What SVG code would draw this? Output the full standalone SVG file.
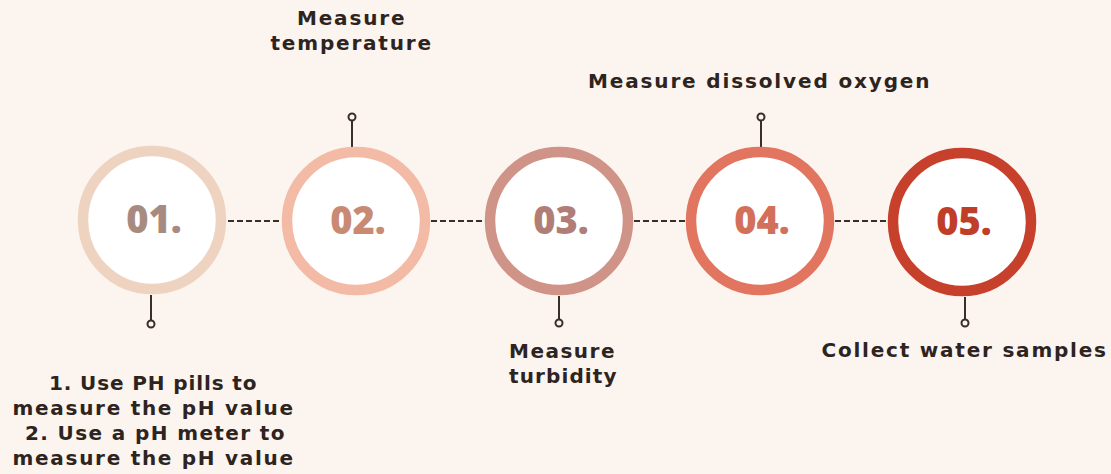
<svg xmlns="http://www.w3.org/2000/svg" width="1111" height="474" viewBox="0 0 1111 474">
<style>
.lbl{font-family:"DejaVu Sans","Open Sans",sans-serif;font-weight:700;font-size:20px;fill:#2e241f;text-anchor:middle;letter-spacing:0.5px}
.num{font-family:"Open Sans","Liberation Sans",sans-serif;font-weight:800;font-size:38px;text-anchor:middle}
.ring{fill:#ffffff;stroke-width:10.5}
.stem{stroke:#3a2e29;stroke-width:2;fill:none}
.dot{fill:#fcf4ee;stroke:#3a2e29;stroke-width:2}
.dash{stroke:#3a2e29;stroke-width:2.2;stroke-dasharray:6 3;fill:none}
</style>
<rect width="1111" height="474" fill="#fcf4ee"/>
<g id="connectors">
<line class="dash" x1="228" y1="221" x2="281" y2="221"/>
<line class="dash" x1="431" y1="221" x2="484" y2="221"/>
<line class="dash" x1="634" y1="221" x2="686" y2="221"/>
<line class="dash" x1="835" y1="221" x2="888" y2="221"/>
<line class="stem" x1="151" y1="295" x2="151" y2="320"/>
<circle class="dot" cx="151" cy="324" r="3.5"/>
<line class="stem" x1="352" y1="121" x2="352" y2="147"/>
<circle class="dot" cx="352" cy="117" r="3.5"/>
<line class="stem" x1="559" y1="296" x2="559" y2="319"/>
<circle class="dot" cx="559" cy="323" r="3.5"/>
<line class="stem" x1="761" y1="121" x2="761" y2="147"/>
<circle class="dot" cx="761" cy="117" r="3.5"/>
<line class="stem" x1="965" y1="297" x2="965" y2="319"/>
<circle class="dot" cx="965" cy="323" r="3.5"/>
</g>
<g id="n1">
<circle class="ring" cx="152" cy="220" r="69" stroke="#efd3c1"/>
<text class="num" x="154" y="233" fill="#a88b80">01.</text>
<text class="lbl" x="153" y="390" textLength="208" lengthAdjust="spacing">1. Use PH pills to</text>
<text class="lbl" x="153" y="415" textLength="281" lengthAdjust="spacing">measure the pH value</text>
<text class="lbl" x="155" y="440" textLength="260" lengthAdjust="spacing">2. Use a pH meter to</text>
<text class="lbl" x="153" y="465" textLength="281" lengthAdjust="spacing">measure the pH value</text>
</g>
<g id="n2">
<circle class="ring" cx="356" cy="221" r="69" stroke="#f3bba5"/>
<text class="num" x="358" y="234" fill="#c98a74">02.</text>
<text class="lbl" x="351" y="25" textLength="108" lengthAdjust="spacing">Measure</text>
<text class="lbl" x="351" y="50" textLength="161" lengthAdjust="spacing">temperature</text>
</g>
<g id="n3">
<circle class="ring" cx="559" cy="221" r="69" stroke="#cf9387"/>
<text class="num" x="561" y="234" fill="#b07e77">03.</text>
<text class="lbl" x="562" y="358" textLength="106" lengthAdjust="spacing">Measure</text>
<text class="lbl" x="563" y="383" textLength="108" lengthAdjust="spacing">turbidity</text>
</g>
<g id="n4">
<circle class="ring" cx="760" cy="221" r="69" stroke="#e17560"/>
<text class="num" x="762" y="234" fill="#d3705b">04.</text>
<text class="lbl" x="759" y="88" textLength="342" lengthAdjust="spacing">Measure dissolved oxygen</text>
</g>
<g id="n5">
<circle class="ring" cx="962" cy="222" r="69" stroke="#c6402b"/>
<text class="num" x="964" y="235" fill="#c03d28">05.</text>
<text class="lbl" x="964" y="357" textLength="285" lengthAdjust="spacing">Collect water samples</text>
</g>
</svg>
